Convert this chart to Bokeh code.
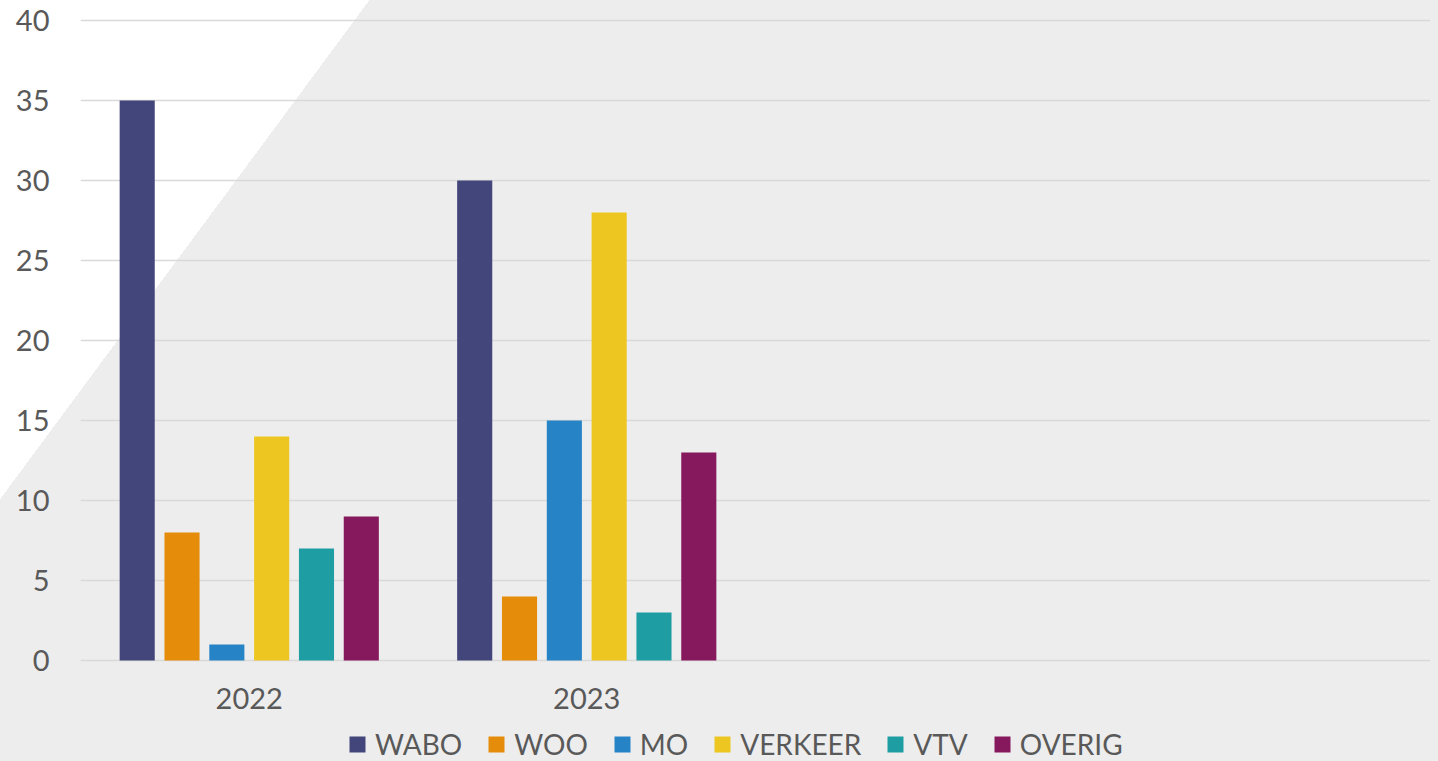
from bokeh.plotting import figure
from bokeh.models import Range1d, FixedTicker, Legend, LegendItem, ColumnDataSource
from bokeh.embed import file_html
from bokeh.resources import INLINE

# ---- data ----
years = ["2022", "2023"]
series = ["WABO", "WOO", "MO", "VERKEER", "VTV", "OVERIG"]
wabo = [35, 30]
woo = [8, 4]
mo = [1, 15]
verkeer = [14, 28]
vtv = [7, 3]
overig = [9, 13]
values = [wabo, woo, mo, verkeer, vtv, overig]
n_slots = 4  # the chart reserves room for four year groups
y_max = 40

# ---- style / layout ----
colors = ["#42467A", "#E58C0A", "#2683C6", "#EDC621", "#1E9DA2", "#86185E"]
text_color = "#595959"
grid_color = "#D9D9D9"
font = "Lato"
step = 0.1328
bar_w = 0.104
W, H = 1438, 761
top_px, zero_px = 20, 660          # screen rows of the 40 line and the 0 line
px_per_unit = (zero_px - top_px) / y_max
pad_top = 2                         # px of room above the top grid line
y_top = y_max + pad_top / px_per_unit
y_bottom = -(H - zero_px) / px_per_unit   # frame extends below 0 to hold labels + legend

p = figure(width=W, height=H, x_range=Range1d(0, n_slots), y_range=Range1d(y_bottom, y_top),
           output_backend="svg", toolbar_location=None,
           min_border_left=80, min_border_right=8, min_border_top=top_px - pad_top,
           min_border_bottom=0,
           border_fill_color=None, background_fill_color=None, outline_line_color=None,
           styles={"background": "linear-gradient(126.5deg, #FFFFFF 297px, #EDEDED 297px)"})

items = []
for k, (name, vals) in enumerate(zip(series, values)):
    xs = [i + 0.5 + (k - 2.5) * step for i in range(len(years))]
    src = ColumnDataSource(dict(x=xs, top=vals))
    r = p.vbar(x="x", top="top", width=bar_w, bottom=0, source=src,
               fill_color=colors[k], line_color=None)
    items.append(LegendItem(label=name, renderers=[r]))

p.xgrid.grid_line_color = None
p.ygrid.grid_line_color = grid_color
p.ygrid.grid_line_width = 1.6
p.yaxis.ticker = FixedTicker(ticks=list(range(0, y_max + 1, 5)))
p.xaxis.ticker = FixedTicker(ticks=[i + 0.5 for i in range(len(years))])
p.xaxis.major_label_overrides = {i + 0.5: y for i, y in enumerate(years)}
p.xaxis.fixed_location = 0

for ax in (p.xaxis[0], p.yaxis[0]):
    ax.axis_line_color = None
    ax.major_tick_line_color = None
    ax.minor_tick_line_color = None
    ax.major_label_text_color = text_color
    ax.major_label_text_font = font
    ax.major_label_text_font_size = "29px"
p.yaxis.major_label_standoff = 25
p.xaxis.major_label_standoff = 21

legend = Legend(items=items, orientation="horizontal", location=(267, 0),
                glyph_width=20, glyph_height=20, label_standoff=8, spacing=24,
                padding=0, margin=0, border_line_color=None, background_fill_color=None,
                background_fill_alpha=0, label_text_font=font, label_text_font_size="28px",
                label_text_color=text_color)
p.add_layout(legend, "center")

open("out.html", "w").write(file_html(p, INLINE))
